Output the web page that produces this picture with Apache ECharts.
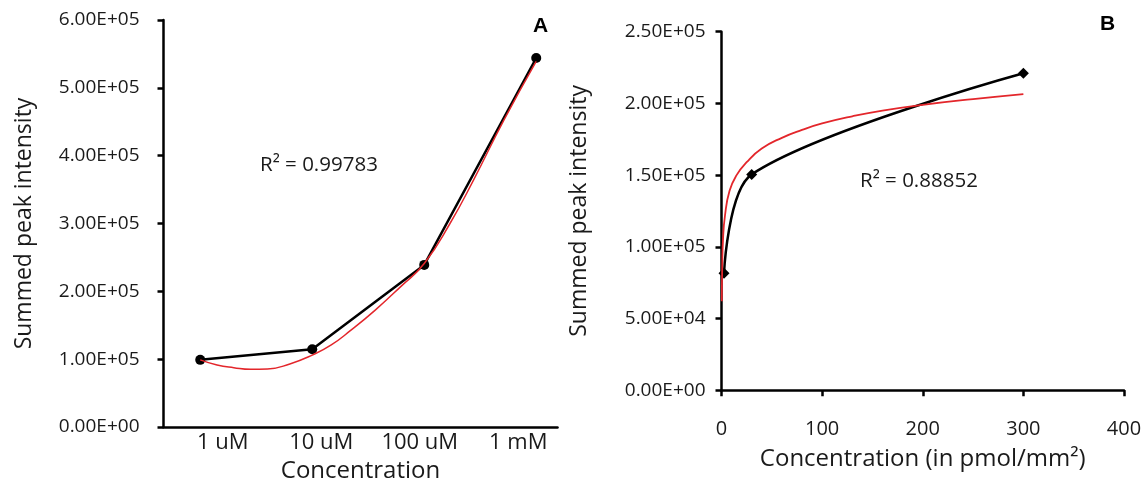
<!DOCTYPE html>
<html>
<head>
<meta charset="utf-8">
<script src="https://cdn.jsdelivr.net/npm/echarts@6/dist/echarts.min.js"></script>
<style>
html,body{margin:0;padding:0;background:#fff;}
#chart{width:1147px;height:482px;}
</style>
</head>
<body>
<div id="chart"></div>
<script>
// ---- Panel A data ----
const categoriesA = ['1 uM', '10 uM', '100 uM', '1 mM'];
const positionsA = [1, 2, 3, 4];
const intensityA = [99000, 114500, 239000, 544000];
const trendXA = [1.0, 1.15, 1.3, 1.45, 1.6, 1.8, 2.0, 2.17, 2.34, 2.56, 2.79, 3.0, 3.23, 3.44, 3.71, 4.0];
const trendYA = [99000, 91500, 87500, 85000, 85500, 93000, 106000, 121000, 142000, 172000, 207000, 241000, 300000, 364000, 452000, 539000];
const yTicksA = ['0.00E+00', '1.00E+05', '2.00E+05', '3.00E+05', '4.00E+05', '5.00E+05', '6.00E+05'];
const r2A = 'R² = 0.99783';

// ---- Panel B data ----
const concB = [2.5, 30, 300];
const intensityB = [81500, 150500, 221000];
const trendXB = [0.3, 0.7, 1.5, 3.5, 8, 15, 25, 40, 60, 80, 100, 130, 160, 200, 250, 300];
const trendYB = [62000, 85000, 105000, 122000, 139000, 150000, 159000, 168500, 176000, 181500, 186000, 191000, 195000, 199000, 203000, 206500];
const yTicksB = ['0.00E+00', '5.00E+04', '1.00E+05', '1.50E+05', '2.00E+05', '2.50E+05'];
const xTicksB = ['0', '100', '200', '300', '400'];
const r2B = 'R² = 0.88852';

const FONT = '"Open Sans", "DejaVu Sans", sans-serif';
const TXT = '#1a1a1a';
const RED = '#e3262b';

const zip = (a, b) => a.map((v, i) => [v, b[i]]);

const chart = echarts.init(document.getElementById('chart'), null, {renderer: 'canvas'});

const axisLineStyle = {show: true, lineStyle: {color: '#000', width: 2.5}};

chart.setOption({
  animation: false,
  backgroundColor: '#fff',
  grid: [
    {left: 163.5, top: 20, width: 394, height: 407, outerBoundsMode: 'none', containLabel: false},
    {left: 721.5, top: 31.7, width: 402.5, height: 358.5, outerBoundsMode: 'none', containLabel: false}
  ],
  xAxis: [
    {
      type: 'value', gridIndex: 0, position: 'bottom', min: 0.672, max: 4.19,
      axisLine: axisLineStyle, axisTick: {show: false}, axisLabel: {show: false}, splitLine: {show: false}
    },
    {
      type: 'category', gridIndex: 0, position: 'bottom', data: categoriesA, boundaryGap: true,
      axisLine: {show: false}, axisTick: {show: false}, splitLine: {show: false},
      axisLabel: {interval: 0, color: TXT, fontFamily: FONT, fontSize: 22, margin: 5, padding: [0, 0, 0, 20]},
      name: 'Concentration', nameLocation: 'middle', nameGap: 30,
      nameTextStyle: {color: TXT, fontFamily: FONT, fontSize: 24}
    },
    {
      type: 'value', gridIndex: 1, position: 'bottom', min: 0, max: 400, interval: 100,
      axisLine: axisLineStyle,
      axisTick: {show: true, length: 6, inside: false, lineStyle: {color: '#000', width: 2.5}},
      axisLabel: {color: TXT, fontFamily: FONT, fontSize: 20, margin: 29,
        formatter: v => xTicksB[Math.round(v / 100)]},
      splitLine: {show: false},
      name: 'Concentration (in pmol/mm²)', nameLocation: 'middle', nameGap: 57,
      nameTextStyle: {color: TXT, fontFamily: FONT, fontSize: 24}
    }
  ],
  yAxis: [
    {
      type: 'value', gridIndex: 0, min: 0, max: 600000, interval: 100000,
      axisLine: axisLineStyle,
      axisTick: {show: true, length: 6, lineStyle: {color: '#000', width: 2.5}},
      axisLabel: {color: TXT, fontFamily: FONT, fontSize: 19, margin: 24,
        formatter: v => yTicksA[Math.round(v / 100000)]},
      splitLine: {show: false},
      name: 'Summed peak intensity', nameLocation: 'middle', nameRotate: 90, nameGap: 128,
      nameTextStyle: {color: TXT, fontFamily: FONT, fontSize: 23}
    },
    {
      type: 'value', gridIndex: 1, min: 0, max: 250000, interval: 50000,
      axisLine: axisLineStyle,
      axisTick: {show: true, length: 6, lineStyle: {color: '#000', width: 2.5}},
      axisLabel: {color: TXT, fontFamily: FONT, fontSize: 19, margin: 16,
        formatter: v => yTicksB[Math.round(v / 50000)]},
      splitLine: {show: false},
      name: 'Summed peak intensity', nameLocation: 'middle', nameRotate: 90, nameGap: 131,
      nameTextStyle: {color: TXT, fontFamily: FONT, fontSize: 23}
    }
  ],
  series: [
    {
      type: 'line', xAxisIndex: 0, yAxisIndex: 0, data: zip(positionsA, intensityA),
      symbol: 'circle', symbolSize: 10, itemStyle: {color: '#000'},
      lineStyle: {color: '#000', width: 2.5}, z: 2
    },
    {
      type: 'line', xAxisIndex: 0, yAxisIndex: 0, data: zip(trendXA, trendYA),
      smooth: 0.5, showSymbol: false,
      lineStyle: {color: RED, width: 1.5}, z: 3
    },
    {
      type: 'line', xAxisIndex: 2, yAxisIndex: 1, data: zip(concB, intensityB),
      smooth: 0.3, symbol: 'diamond', symbolSize: 11, itemStyle: {color: '#000'},
      lineStyle: {color: '#000', width: 2.5}, z: 2
    },
    {
      type: 'line', xAxisIndex: 2, yAxisIndex: 1, data: zip(trendXB, trendYB),
      smooth: 0.5, showSymbol: false,
      lineStyle: {color: RED, width: 1.8}, z: 3
    }
  ],
  graphic: [
    {type: 'text', left: 533, top: 16, style: {text: 'A', font: 'bold 21px "Liberation Sans", Arial, sans-serif', fill: '#000'}},
    {type: 'text', left: 1100, top: 14, style: {text: 'B', font: 'bold 21px "Liberation Sans", Arial, sans-serif', fill: '#000'}},
    {type: 'text', left: 260, top: 155, style: {text: r2A, font: '20.5px "Open Sans", sans-serif', fill: TXT}},
    {type: 'text', left: 860, top: 171, style: {text: r2B, font: '20.5px "Open Sans", sans-serif', fill: TXT}}
  ]
});
</script>
</body>
</html>
